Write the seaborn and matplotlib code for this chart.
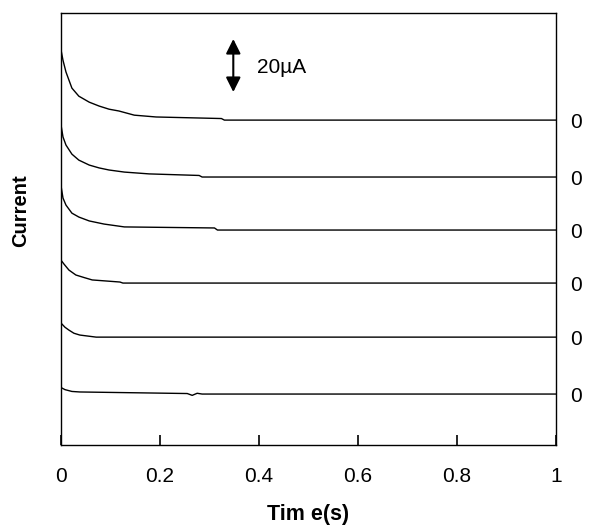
# -*- coding: utf-8 -*-

### Stacked current transients ###

import pandas as pd
import matplotlib
matplotlib.use("Agg")
import matplotlib.pyplot as plt
import seaborn as sns

sns.set_style("white")
plt.rcParams['font.family'] = ['Liberation Sans', 'DejaVu Sans']
plt.rcParams['text.color'] = 'black'
plt.rcParams['axes.labelcolor'] = 'black'
plt.rcParams['xtick.color'] = 'black'
plt.rcParams['ytick.color'] = 'black'

## data (time in s, current in uA above each trace's own zero) ##
t1 = [0.0, 0.004, 0.010, 0.016, 0.022, 0.036, 0.057, 0.077, 0.097, 0.117, 0.148, 0.192, 0.324, 0.330, 1.0]
i1 = [27.0, 23.0, 18.5, 15.4, 12.3, 9.2, 6.9, 5.4, 4.2, 3.5, 1.9, 1.2, 0.6, 0.0, 0.0]

t2 = [0.0, 0.004, 0.010, 0.022, 0.036, 0.057, 0.077, 0.097, 0.128, 0.178, 0.279, 0.285, 1.0]
i2 = [20.0, 15.4, 12.3, 8.8, 6.5, 4.6, 3.5, 2.7, 1.9, 1.2, 0.6, 0.0, 0.0]

t3 = [0.0, 0.004, 0.010, 0.022, 0.036, 0.057, 0.087, 0.128, 0.310, 0.316, 1.0]
i3 = [17.0, 12.3, 9.6, 6.5, 5.0, 3.5, 2.3, 1.2, 0.8, 0.0, 0.0]

t4 = [0.0, 0.006, 0.016, 0.030, 0.047, 0.063, 0.119, 0.125, 1.0]
i4 = [8.8, 7.3, 5.0, 3.1, 2.1, 1.2, 0.4, 0.0, 0.0]

t5 = [0.0, 0.008, 0.016, 0.026, 0.038, 0.071, 1.0]
i5 = [5.4, 3.8, 2.7, 1.5, 0.8, 0.0, 0.0]

t6 = [0.0, 0.008, 0.022, 0.038, 0.255, 0.265, 0.275, 0.285, 1.0]
i6 = [2.5, 1.7, 1.0, 0.8, 0.2, -0.5, 0.3, 0.0, 0.0]

offsets = [125.0, 103.1, 82.7, 62.3, 41.5, 19.6]
zero_labels = ["0", "0", "0", "0", "0", "0"]

times = [t1, t2, t3, t4, t5, t6]
currents = [i1, i2, i3, i4, i5, i6]

frames = []
for k, (t, cur, off) in enumerate(zip(times, currents, offsets)):
    frames.append(pd.DataFrame({"Time": t, "Current": [c + off for c in cur], "Trace": k}))
df = pd.concat(frames, ignore_index=True)

## plot ##
fig = plt.figure(figsize=(5.89, 5.29), dpi=100)
ax = fig.add_axes([0.1036, 0.1588, 0.8405, 0.8166])

sns.lineplot(data=df, x="Time", y="Current", units="Trace", estimator=None,
             sort=False, color="black", linewidth=1.0, ax=ax)

ax.set_xlim(0, 1)
ax.set_ylim(0, 166.2)
ax.set_xticks([0, 0.2, 0.4, 0.6, 0.8, 1])
ax.set_xticklabels(["0", "0.2", "0.4", "0.6", "0.8", "1"])
ax.set_yticks([])
ax.tick_params(axis="x", bottom=True, top=False, direction="in",
               length=7, width=1.2, pad=16, labelsize=15, color="black")
ax.set_xlabel("Tim e(s)", fontsize=15.5, fontweight="bold", labelpad=13)
ax.set_ylabel("Current", fontsize=14.5, fontweight="bold")
ax.yaxis.set_label_coords(-0.062, 0.542)
for sp in ax.spines.values():
    sp.set_color("black")
    sp.set_linewidth(1.0)

# zero labels on the right
ax2 = ax.twinx()
ax2.set_ylim(ax.get_ylim())
ax2.set_yticks(offsets)
ax2.set_yticklabels(zero_labels)
ax2.tick_params(axis="y", right=True, length=0, pad=10, labelsize=15)
for sp in ax2.spines.values():
    sp.set_visible(False)

# scale bar
ax.annotate("", xy=(0.348, 156.2), xytext=(0.348, 135.8),
            arrowprops=dict(arrowstyle="<|-|>", color="black", lw=1.5,
                            mutation_scale=22, shrinkA=0, shrinkB=0))
ax.text(0.395, 145.4, "20\u00b5A", fontsize=15, va="center", ha="left")

plt.savefig("out.png", dpi=100)
